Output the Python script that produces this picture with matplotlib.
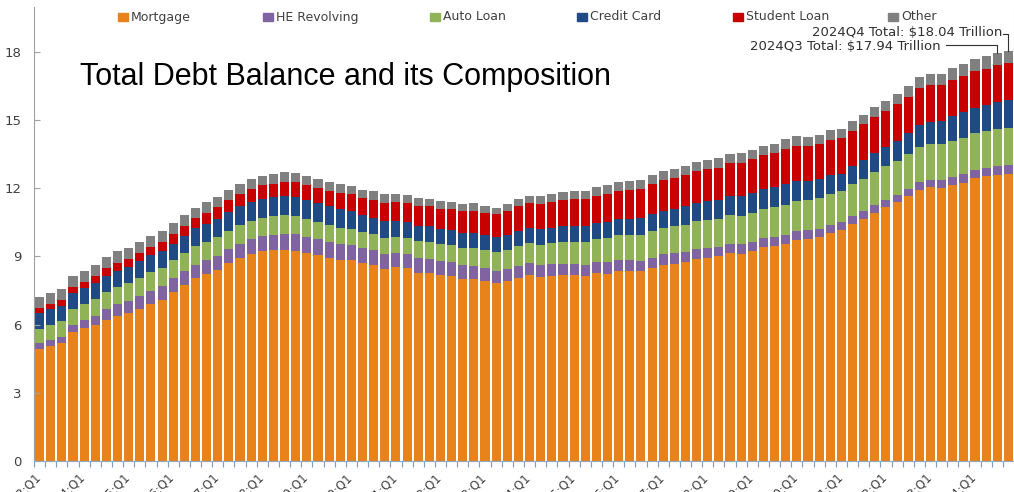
import numpy as np
import matplotlib
matplotlib.use("Agg")
import matplotlib.pyplot as plt
from matplotlib.patches import Rectangle

# Household debt by type, trillions of dollars, 2003Q1 .. 2024Q4
quarters = [f"{y % 100:02d}:Q{q}" for y in range(2003, 2025) for q in range(1, 5)]

mortgage = [
    4.94, 5.08, 5.18, 5.66, 5.84, 5.97, 6.21, 6.36, 6.51, 6.70, 6.91, 7.10,
    7.44, 7.76, 8.04, 8.23, 8.42, 8.71, 8.93, 9.10, 9.23, 9.27, 9.29, 9.26,
    9.14, 9.06, 8.94, 8.84, 8.83, 8.70, 8.61, 8.45, 8.52, 8.48, 8.29, 8.29,
    8.19, 8.15, 8.03, 8.03, 7.93, 7.84, 7.90, 8.05, 8.17, 8.10, 8.14, 8.17,
    8.17, 8.12, 8.26, 8.25, 8.37, 8.36, 8.35, 8.48, 8.63, 8.69, 8.74, 8.88,
    8.94, 9.00, 9.14, 9.12, 9.24, 9.41, 9.44, 9.56, 9.71, 9.78, 9.86, 10.04,
    10.16, 10.44, 10.67, 10.93, 11.18, 11.39, 11.67, 11.92, 12.04, 12.01, 12.14, 12.25,
    12.44, 12.52, 12.59, 12.61,
]
he_revolving = [
    0.24, 0.26, 0.29, 0.33, 0.37, 0.43, 0.47, 0.53, 0.54, 0.57, 0.58, 0.59,
    0.60, 0.60, 0.60, 0.60, 0.61, 0.61, 0.63, 0.65, 0.67, 0.69, 0.71, 0.71,
    0.71, 0.71, 0.71, 0.70, 0.68, 0.67, 0.66, 0.67, 0.64, 0.63, 0.64, 0.62,
    0.60, 0.59, 0.58, 0.56, 0.55, 0.54, 0.54, 0.53, 0.53, 0.52, 0.51, 0.51,
    0.51, 0.50, 0.49, 0.49, 0.49, 0.48, 0.47, 0.47, 0.46, 0.45, 0.45, 0.44,
    0.44, 0.43, 0.42, 0.41, 0.41, 0.40, 0.40, 0.39, 0.39, 0.37, 0.36, 0.35,
    0.34, 0.33, 0.32, 0.32, 0.32, 0.32, 0.32, 0.34, 0.34, 0.34, 0.35, 0.36,
    0.37, 0.38, 0.39, 0.40,
]
auto_loan = [
    0.64, 0.64, 0.68, 0.70, 0.72, 0.73, 0.76, 0.77, 0.78, 0.80, 0.82, 0.82,
    0.79, 0.80, 0.82, 0.82, 0.82, 0.82, 0.82, 0.81, 0.81, 0.82, 0.81, 0.79,
    0.79, 0.76, 0.74, 0.73, 0.71, 0.70, 0.71, 0.71, 0.70, 0.71, 0.73, 0.73,
    0.74, 0.75, 0.77, 0.78, 0.79, 0.81, 0.84, 0.86, 0.88, 0.90, 0.93, 0.96,
    0.96, 1.00, 1.02, 1.06, 1.07, 1.10, 1.13, 1.16, 1.17, 1.19, 1.21, 1.22,
    1.23, 1.24, 1.27, 1.27, 1.28, 1.30, 1.32, 1.33, 1.35, 1.34, 1.36, 1.37,
    1.37, 1.41, 1.44, 1.46, 1.47, 1.50, 1.52, 1.55, 1.56, 1.58, 1.60, 1.61,
    1.62, 1.63, 1.65, 1.66,
]
credit_card = [
    0.69, 0.69, 0.69, 0.71, 0.70, 0.70, 0.71, 0.72, 0.71, 0.72, 0.74, 0.74,
    0.74, 0.76, 0.78, 0.79, 0.80, 0.82, 0.84, 0.85, 0.84, 0.85, 0.87, 0.87,
    0.84, 0.82, 0.81, 0.80, 0.76, 0.74, 0.73, 0.73, 0.69, 0.69, 0.70, 0.70,
    0.68, 0.67, 0.67, 0.68, 0.66, 0.67, 0.67, 0.68, 0.66, 0.67, 0.68, 0.70,
    0.68, 0.70, 0.71, 0.73, 0.71, 0.73, 0.75, 0.78, 0.76, 0.78, 0.81, 0.83,
    0.82, 0.83, 0.84, 0.87, 0.85, 0.87, 0.88, 0.93, 0.89, 0.82, 0.81, 0.82,
    0.77, 0.79, 0.80, 0.86, 0.84, 0.89, 0.93, 0.99, 0.99, 1.03, 1.08, 1.13,
    1.12, 1.14, 1.17, 1.21,
]
student_loan = [
    0.24, 0.24, 0.25, 0.25, 0.26, 0.29, 0.33, 0.35, 0.36, 0.37, 0.38, 0.39,
    0.43, 0.43, 0.45, 0.48, 0.51, 0.51, 0.54, 0.55, 0.58, 0.58, 0.61, 0.64,
    0.66, 0.68, 0.69, 0.72, 0.76, 0.76, 0.78, 0.81, 0.84, 0.85, 0.87, 0.87,
    0.90, 0.91, 0.96, 0.97, 0.99, 0.99, 1.03, 1.08, 1.11, 1.12, 1.13, 1.16,
    1.19, 1.19, 1.20, 1.23, 1.26, 1.26, 1.28, 1.31, 1.34, 1.34, 1.36, 1.38,
    1.41, 1.41, 1.44, 1.46, 1.49, 1.48, 1.50, 1.51, 1.54, 1.54, 1.55, 1.56,
    1.58, 1.57, 1.58, 1.58, 1.59, 1.59, 1.57, 1.60, 1.60, 1.57, 1.60, 1.60,
    1.60, 1.59, 1.61, 1.62,
]
other = [
    0.48, 0.49, 0.48, 0.49, 0.49, 0.49, 0.48, 0.49, 0.48, 0.48, 0.48, 0.48,
    0.46, 0.46, 0.46, 0.46, 0.45, 0.45, 0.45, 0.44, 0.43, 0.42, 0.41, 0.41,
    0.41, 0.40, 0.39, 0.39, 0.38, 0.37, 0.37, 0.37, 0.36, 0.35, 0.35, 0.34,
    0.33, 0.32, 0.32, 0.32, 0.31, 0.30, 0.31, 0.32, 0.33, 0.33, 0.35, 0.35,
    0.35, 0.37, 0.37, 0.38, 0.36, 0.38, 0.38, 0.39, 0.38, 0.39, 0.40, 0.41,
    0.40, 0.41, 0.42, 0.42, 0.42, 0.42, 0.42, 0.43, 0.42, 0.41, 0.41, 0.42,
    0.40, 0.42, 0.43, 0.43, 0.45, 0.46, 0.48, 0.50, 0.51, 0.51, 0.53, 0.54,
    0.54, 0.54, 0.53, 0.54,
]

series_names = ["Mortgage", "HE Revolving", "Auto Loan", "Credit Card", "Student Loan", "Other"]
series_values = [mortgage, he_revolving, auto_loan, credit_card, student_loan, other]
colors = ["#E8831C", "#8064A2", "#8FB356", "#1F4A84", "#C80000", "#808080"]

W, H = 1014, 492
fig = plt.figure(figsize=(W / 100, H / 100), dpi=100)
ax = fig.add_axes([34 / W, 31 / H, 980 / W, 454.5 / H])

x = np.arange(len(quarters))
bottom = np.zeros(len(quarters))
for name, vals, c in zip(series_names, series_values, colors):
    vals = np.array(vals)
    ax.bar(x, vals, width=0.82, bottom=bottom, color=c, linewidth=0, label=name)
    bottom += vals
total = bottom

ax.set_xlim(-0.5, len(quarters) - 0.5)
ax.set_ylim(0, 20)
ax.set_yticks(np.arange(0, 19, 3))
ax.tick_params(axis="y", direction="in", length=4, width=0.8, color="#A0A0A0",
               labelsize=9.5, labelcolor="#404040", pad=9)

# category ticks on bar boundaries, labels every 4th quarter
ax.set_xticks(x - 0.5, minor=True)
ax.set_xticks(x[::4] - 0.5)
ax.set_xticklabels(quarters[::4], rotation=45, ha="right", rotation_mode="anchor")
ax.tick_params(axis="x", which="both", direction="out", length=4, width=0.8,
               color="#7F9CC4", labelsize=8.5, labelcolor="#404040", pad=3)

ax.spines["top"].set_visible(False)
ax.spines["left"].set_color("#A0A0A0")
ax.spines["bottom"].set_color("#8FA8C8")
ax.spines["right"].set_color("#D0D0D0")

# legend across the top
leg_x = [118, 263, 430, 577, 733, 888]
for name, c, lx in zip(series_names, colors, leg_x):
    fig.patches.append(Rectangle((lx / W, 1 - 21 / H), 10 / W, 8 / H,
                                 transform=fig.transFigure, color=c))
    fig.text((lx + 13) / W, 1 - 17 / H, name, fontsize=9, color="#404040",
             va="center", ha="left")

fig.text(80 / W, 1 - 77 / H, "Total Debt Balance and its Composition",
         family="Liberation Sans", fontsize=22, color="black", va="center", ha="left")

# totals for the last two quarters
q4, q3 = len(quarters) - 1, len(quarters) - 2
ax.text(86.5, 18.84, f"2024Q4 Total: ${total[q4]:.2f} Trillion", fontsize=9.5,
        color="#303030", ha="right", va="center")
ax.plot([86.55, q4, q4], [18.79, 18.79, total[q4]], color="#303030", lw=0.8)
ax.text(80.9, 18.22, f"2024Q3 Total: ${total[q3]:.2f} Trillion", fontsize=9.5,
        color="#303030", ha="right", va="center")
ax.plot([81.4, q3, q3], [18.31, 18.31, total[q3]], color="#303030", lw=0.8)

fig.savefig("out.png", dpi=100)
